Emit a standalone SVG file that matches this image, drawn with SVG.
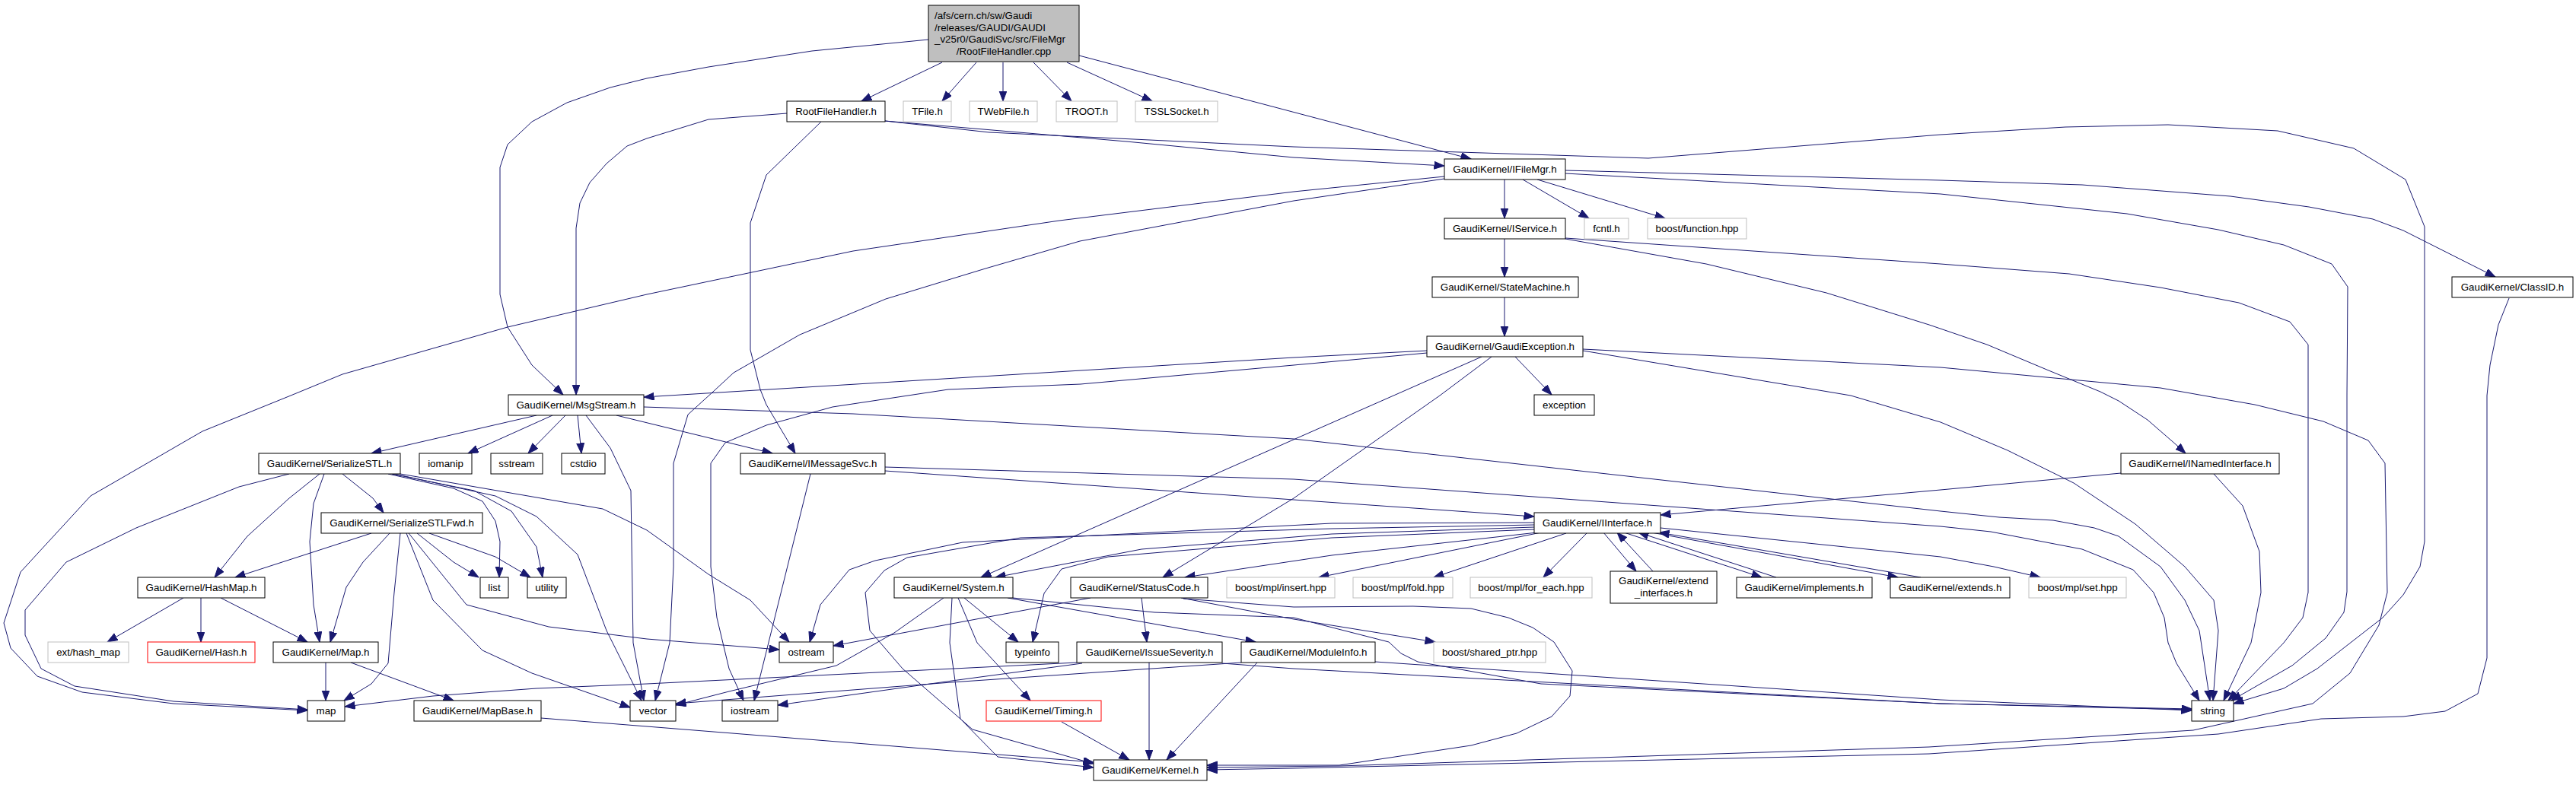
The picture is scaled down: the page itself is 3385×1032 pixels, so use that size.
<svg xmlns="http://www.w3.org/2000/svg" width="3385" height="1032" viewBox="0 0 3385 1032">
<style>
.e{fill:none;stroke:#191970;stroke-width:1;marker-end:url(#ah)}
.n rect{fill:#ffffff;stroke:#000000;stroke-width:1}
.g rect{stroke:#bfbfbf}
.r rect{stroke:#ff0000}
.top rect{fill:#bfbfbf;stroke:#000000}
text{font-family:"Liberation Sans",Arial,Helvetica,sans-serif;font-size:13.33px;fill:#000000;text-anchor:middle}
.l{text-anchor:start}
</style>
<defs>
<marker id="ah" markerUnits="userSpaceOnUse" markerWidth="14" markerHeight="11" refX="13.5" refY="5" orient="auto">
<path d="M0,0 L13.5,5 L0,10 z" fill="#191970" stroke="#191970" stroke-width="1"/>
</marker>
</defs>
<rect x="0" y="0" width="3385" height="1032" fill="#ffffff"/>
<g id="edges">
<path class="e" d="M1238,82 L1132,133"/>
<path class="e" d="M1283,82 L1238,133"/>
<path class="e" d="M1318,82 L1318,133"/>
<path class="e" d="M1358,82 L1408,133"/>
<path class="e" d="M1402,82 L1514,133"/>
<path class="e" d="M1418,73 L1933,209"/>
<path class="e" d="M1220,52 L1067,67 931,88 850,103 802,115 745,135 699,160 667,190 657,220 657,387 667,430 699,480 740,519"/>
<path class="e" d="M1034,149 L931,157 850,182 824,192 797,215 775,240 762,267 757,300 757,519"/>
<path class="e" d="M1079,160 L1007,230 986,293 986,460 999,512 1007,532 1045,596"/>
<path class="e" d="M1163,159 L1480,186 1700,207 1898,218"/>
<path class="e" d="M1163,159 L1300,174 1700,193 2166,208 2550,177 2714,167 2849,164 2993,172 3093,195 3161,236 3186,298 3186,712 3180,745 3158,782 3131,812 3045,879 3001,905 2935,925"/>
<path class="e" d="M1977,236 L1977,287"/>
<path class="e" d="M2001,236 L2088,287"/>
<path class="e" d="M2020,236 L2188,287"/>
<path class="e" d="M2057,224 L2550,237 2736,243 2931,258 3034,272 3118,288 3158,303 3279,364"/>
<path class="e" d="M2057,228 L2550,255 2795,281 2915,302 3001,322 3064,347 3085,377 3084,520 3084,778 3080,805 3056,839 3012,875 2932,921"/>
<path class="e" d="M1898,232 L1700,252 1392,290 1121,330 850,387 667,430 450,492 382,520 266,567 119,652 27,752 5,819 14,852 49,889 108,910 228,925 404,934"/>
<path class="e" d="M1898,235 L1700,264 1419,317 1295,353 1164,393 1051,440 964,490 937,515 904,545 885,609 885,745 880,845 861,921"/>
<path class="e" d="M1977,314 L1977,364"/>
<path class="e" d="M2057,314 L2242,347 2400,385 2535,427 2611,453 2692,487 2760,515 2784,527 2822,552 2860,585 2872,596"/>
<path class="e" d="M2057,313 L2550,347 2719,360 2839,378 2942,398 3009,423 3033,453 3033,779 3026,812 3001,845 2928,921"/>
<path class="e" d="M1977,391 L1977,442"/>
<path class="e" d="M1991,469 L2039,519"/>
<path class="e" d="M1947,469 L1289,759"/>
<path class="e" d="M1960,469 L1892,520 1700,655 1528,759"/>
<path class="e" d="M1875,461 L1700,470 846,522"/>
<path class="e" d="M1875,464 L1700,480 1420,505 1246,512 1094,535 1007,559 953,582 934,609 934,745 942,812 958,879 977,921"/>
<path class="e" d="M2080,461 L2432,520 2550,555 2638,592 2725,635 2806,689 2871,745 2909,789 2915,829 2908,921"/>
<path class="e" d="M2080,459 L2550,483 2839,510 2963,532 3053,554 3112,579 3134,609 3137,779 3126,822 3088,885 3039,925 2882,960 2535,982 1760,1007 1586,1009"/>
<path class="e" d="M3297,392 L3283,427 3272,480 3268,520 3268,865 3256,912 3213,935 3158,942 3050,945 2915,965 2535,991 1700,1010 1586,1012"/>
<path class="e" d="M705,546 L488,596"/>
<path class="e" d="M726,546 L615,596"/>
<path class="e" d="M743,546 L694,596"/>
<path class="e" d="M759,546 L764,596"/>
<path class="e" d="M770,546 L802,589 829,645 832,845 846,921"/>
<path class="e" d="M810,546 L1015,596"/>
<path class="e" d="M846,535 L1121,544 1700,577 2550,672 2627,680 2698,684 2752,694 2784,705 2839,745 2871,789 2890,829 2904,921"/>
<path class="e" d="M1163,619 L1700,657 2016,679"/>
<path class="e" d="M1163,614 L1700,630 2550,692 2616,699 2736,722 2803,749 2830,779 2844,812 2849,845 2860,872 2890,921"/>
<path class="e" d="M1065,623 L991,921"/>
<path class="e" d="M450,623 L490,655 504,674"/>
<path class="e" d="M420,623 L380,655 325,705 282,759"/>
<path class="e" d="M426,623 L412,662 407,712 412,795 420,844"/>
<path class="e" d="M380,623 L314,640 179,694 87,739 33,802 33,835 54,879 98,902 228,922 404,933"/>
<path class="e" d="M510,623 L596,642 634,659 651,685 657,712 656,759"/>
<path class="e" d="M515,623 L623,645 672,672 705,719 713,759"/>
<path class="e" d="M518,623 L651,652 705,679 759,729 797,829 835,905 843,921"/>
<path class="e" d="M526,623 L792,669 850,697 931,755 986,789 1037,844"/>
<path class="e" d="M488,701 L309,759"/>
<path class="e" d="M512,701 L477,739 455,772 434,844"/>
<path class="e" d="M526,701 L518,779 510,872 488,899 452,921"/>
<path class="e" d="M548,701 L596,739 629,759"/>
<path class="e" d="M564,701 L651,732 697,759"/>
<path class="e" d="M534,701 L569,789 634,855 699,885 828,930"/>
<path class="e" d="M537,701 L613,795 721,824 850,840 1024,854"/>
<path class="e" d="M241,786 L141,844"/>
<path class="e" d="M264,786 L264,844"/>
<path class="e" d="M290,786 L404,844"/>
<path class="e" d="M428,871 L428,921"/>
<path class="e" d="M461,871 L596,921"/>
<path class="e" d="M711,944 L850,955 1437,1002"/>
<path class="e" d="M2016,687 L1750,688 1265,713 1150,737 1116,749 1078,795 1064,844"/>
<path class="e" d="M2016,690 L1750,695 1341,707 1192,733 1162,750 1137,779 1143,829 1186,879 1278,959 1437,1004"/>
<path class="e" d="M2016,693 L1750,702 1500,722 1308,759"/>
<path class="e" d="M2016,696 L1750,707 1456,732 1395,748 1372,780 1357,844"/>
<path class="e" d="M2020,700 L1750,730 1557,759"/>
<path class="e" d="M2025,700 L1733,759"/>
<path class="e" d="M2058,701 L1884,759"/>
<path class="e" d="M2085,701 L2028,759"/>
<path class="e" d="M2107,700 L2150,751"/>
<path class="e" d="M2172,751 L2125,700"/>
<path class="e" d="M2134,700 L2315,759"/>
<path class="e" d="M2334,759 L2153,700"/>
<path class="e" d="M2170,700 L2494,759"/>
<path class="e" d="M2524,759 L2180,700"/>
<path class="e" d="M2182,694 L2550,732 2620,745 2681,759"/>
<path class="e" d="M2787,622 L2550,644 2182,677"/>
<path class="e" d="M2909,623 L2947,665 2969,725 2971,779 2958,845 2922,921"/>
<path class="e" d="M1240,786 L1175,832 1099,875 958,909 888,927"/>
<path class="e" d="M1251,786 L1248,845 1262,945 1311,995 1437,1009"/>
<path class="e" d="M1259,786 L1284,845 1354,921"/>
<path class="e" d="M1267,786 L1338,844"/>
<path class="e" d="M1324,786 L1650,844"/>
<path class="e" d="M1331,786 L1517,805 1700,812 1825,844 1841,859 1863,870 2025,899 2550,925 2880,932"/>
<path class="e" d="M1433,786 L1095,849"/>
<path class="e" d="M1500,786 L1507,844"/>
<path class="e" d="M1552,786 L1700,814 1886,844"/>
<path class="e" d="M1555,787 L1700,798 1857,797 1933,800 1982,812 2014,825 2042,844 2066,882 2063,915 2039,942 1993,964 1933,980 1760,1006 1586,1006"/>
<path class="e" d="M1510,871 L1510,999"/>
<path class="e" d="M1415,871 L850,899 705,905 569,915 453,929"/>
<path class="e" d="M1422,872 L1251,895 1022,927"/>
<path class="e" d="M1606,872 L1700,879 2550,925 2880,933"/>
<path class="e" d="M1652,871 L1533,999"/>
<path class="e" d="M1631,871 L1250,897 888,925"/>
<path class="e" d="M1807,870 L2550,920 2880,934"/>
<path class="e" d="M1395,949 L1484,999"/>
</g>
<g id="n0" class="n top"><rect x="1220" y="7" width="198" height="74"/><text class="l" x="1228" y="25">/afs/cern.ch/sw/Gaudi</text><text class="l" x="1228" y="40.5">/releases/GAUDI/GAUDI</text><text class="l" x="1228" y="56">_v25r0/GaudiSvc/src/FileMgr</text><text x="1319" y="71.5">/RootFileHandler.cpp</text></g>
<g id="n1" class="n"><rect x="1034" y="133" width="129" height="27"/><text x="1098.5" y="151">RootFileHandler.h</text></g>
<g id="n2" class="n g"><rect x="1187" y="133" width="63" height="27"/><text x="1218.5" y="151">TFile.h</text></g>
<g id="n3" class="n g"><rect x="1274" y="133" width="89" height="27"/><text x="1318.5" y="151">TWebFile.h</text></g>
<g id="n4" class="n g"><rect x="1388" y="133" width="80" height="27"/><text x="1428" y="151">TROOT.h</text></g>
<g id="n5" class="n g"><rect x="1492" y="133" width="108" height="27"/><text x="1546" y="151">TSSLSocket.h</text></g>
<g id="n6" class="n"><rect x="1898" y="209" width="159" height="27"/><text x="1977.5" y="227">GaudiKernel/IFileMgr.h</text></g>
<g id="n7" class="n"><rect x="1898" y="287" width="159" height="27"/><text x="1977.5" y="305">GaudiKernel/IService.h</text></g>
<g id="n8" class="n g"><rect x="2082" y="287" width="58" height="27"/><text x="2111" y="305">fcntl.h</text></g>
<g id="n9" class="n g"><rect x="2165" y="287" width="130" height="27"/><text x="2230" y="305">boost/function.hpp</text></g>
<g id="n10" class="n"><rect x="1882" y="364" width="192" height="27"/><text x="1978" y="382">GaudiKernel/StateMachine.h</text></g>
<g id="n11" class="n"><rect x="3222" y="364" width="159" height="27"/><text x="3301.5" y="382">GaudiKernel/ClassID.h</text></g>
<g id="n12" class="n"><rect x="1875" y="442" width="205" height="27"/><text x="1977.5" y="460">GaudiKernel/GaudiException.h</text></g>
<g id="n13" class="n"><rect x="668" y="519" width="178" height="27"/><text x="757" y="537">GaudiKernel/MsgStream.h</text></g>
<g id="n14" class="n"><rect x="2016" y="519" width="79" height="27"/><text x="2055.5" y="537">exception</text></g>
<g id="n15" class="n"><rect x="340" y="596" width="186" height="27"/><text x="433" y="614">GaudiKernel/SerializeSTL.h</text></g>
<g id="n16" class="n"><rect x="551" y="596" width="69" height="27"/><text x="585.5" y="614">iomanip</text></g>
<g id="n17" class="n"><rect x="645" y="596" width="68" height="27"/><text x="679" y="614">sstream</text></g>
<g id="n18" class="n"><rect x="738" y="596" width="57" height="27"/><text x="766.5" y="614">cstdio</text></g>
<g id="n19" class="n"><rect x="973" y="596" width="190" height="27"/><text x="1068" y="614">GaudiKernel/IMessageSvc.h</text></g>
<g id="n20" class="n"><rect x="2787" y="596" width="208" height="27"/><text x="2891" y="614">GaudiKernel/INamedInterface.h</text></g>
<g id="n21" class="n"><rect x="422" y="674" width="212" height="27"/><text x="528" y="692">GaudiKernel/SerializeSTLFwd.h</text></g>
<g id="n22" class="n"><rect x="2016" y="674" width="166" height="27"/><text x="2099" y="692">GaudiKernel/IInterface.h</text></g>
<g id="n23" class="n"><rect x="181" y="759" width="167" height="27"/><text x="264.5" y="777">GaudiKernel/HashMap.h</text></g>
<g id="n24" class="n"><rect x="631" y="759" width="37" height="27"/><text x="649.5" y="777">list</text></g>
<g id="n25" class="n"><rect x="693" y="759" width="51" height="27"/><text x="718.5" y="777">utility</text></g>
<g id="n26" class="n"><rect x="1175" y="759" width="156" height="27"/><text x="1253" y="777">GaudiKernel/System.h</text></g>
<g id="n27" class="n"><rect x="1407" y="759" width="180" height="27"/><text x="1497" y="777">GaudiKernel/StatusCode.h</text></g>
<g id="n28" class="n g"><rect x="1612" y="759" width="142" height="27"/><text x="1683" y="777">boost/mpl/insert.hpp</text></g>
<g id="n29" class="n g"><rect x="1778" y="759" width="131" height="27"/><text x="1843.5" y="777">boost/mpl/fold.hpp</text></g>
<g id="n30" class="n g"><rect x="1932" y="759" width="160" height="27"/><text x="2012" y="777">boost/mpl/for_each.hpp</text></g>
<g id="n31" class="n"><rect x="2116" y="751" width="140" height="42"/><text x="2186" y="768">GaudiKernel/extend</text><text x="2186" y="784">_interfaces.h</text></g>
<g id="n32" class="n"><rect x="2282" y="759" width="178" height="27"/><text x="2371" y="777">GaudiKernel/implements.h</text></g>
<g id="n33" class="n"><rect x="2484" y="759" width="157" height="27"/><text x="2562.5" y="777">GaudiKernel/extends.h</text></g>
<g id="n34" class="n g"><rect x="2666" y="759" width="128" height="27"/><text x="2730" y="777">boost/mpl/set.hpp</text></g>
<g id="n35" class="n g"><rect x="63" y="844" width="106" height="27"/><text x="116" y="862">ext/hash_map</text></g>
<g id="n36" class="n r"><rect x="194" y="844" width="141" height="27"/><text x="264.5" y="862">GaudiKernel/Hash.h</text></g>
<g id="n37" class="n"><rect x="359" y="844" width="138" height="27"/><text x="428" y="862">GaudiKernel/Map.h</text></g>
<g id="n38" class="n"><rect x="1024" y="844" width="71" height="27"/><text x="1059.5" y="862">ostream</text></g>
<g id="n39" class="n"><rect x="1322" y="844" width="69" height="27"/><text x="1356.5" y="862">typeinfo</text></g>
<g id="n40" class="n"><rect x="1415" y="844" width="191" height="27"/><text x="1510.5" y="862">GaudiKernel/IssueSeverity.h</text></g>
<g id="n41" class="n"><rect x="1631" y="844" width="176" height="27"/><text x="1719" y="862">GaudiKernel/ModuleInfo.h</text></g>
<g id="n42" class="n g"><rect x="1884" y="844" width="147" height="27"/><text x="1957.5" y="862">boost/shared_ptr.hpp</text></g>
<g id="n43" class="n"><rect x="404" y="921" width="49" height="27"/><text x="428.5" y="939">map</text></g>
<g id="n44" class="n"><rect x="544" y="921" width="167" height="27"/><text x="627.5" y="939">GaudiKernel/MapBase.h</text></g>
<g id="n45" class="n"><rect x="828" y="921" width="60" height="27"/><text x="858" y="939">vector</text></g>
<g id="n46" class="n"><rect x="949" y="921" width="73" height="27"/><text x="985.5" y="939">iostream</text></g>
<g id="n47" class="n r"><rect x="1296" y="921" width="151" height="27"/><text x="1371.5" y="939">GaudiKernel/Timing.h</text></g>
<g id="n48" class="n"><rect x="2880" y="921" width="55" height="27"/><text x="2907.5" y="939">string</text></g>
<g id="n49" class="n"><rect x="1437" y="999" width="149" height="27"/><text x="1511.5" y="1017">GaudiKernel/Kernel.h</text></g>
</svg>
